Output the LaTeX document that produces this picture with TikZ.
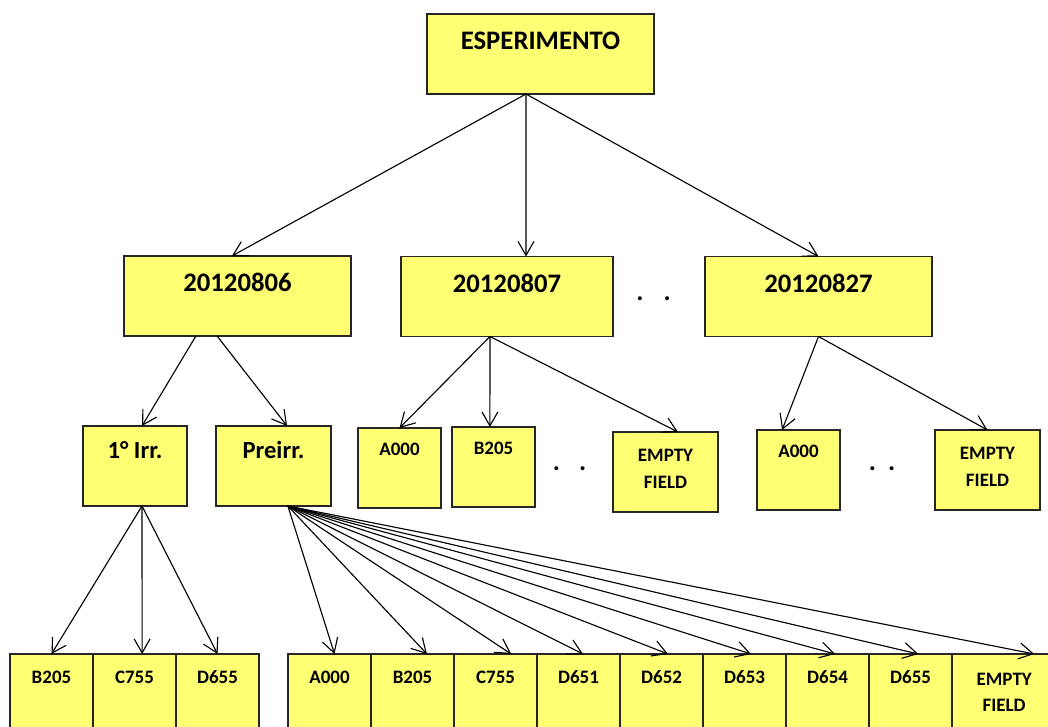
\documentclass[tikz,border=0pt]{standalone}
\usepackage{fontspec}
\setmainfont{Carlito}
\usetikzlibrary{arrows.meta, positioning}
\definecolor{boxyellow}{RGB}{255,255,115}

\begin{document}
\begin{tikzpicture}[x=0.025cm, y=-0.025cm, >={Straight Barb[length=3.5mm,width=4mm]},
    b/.style={draw=black!85, fill=boxyellow, line width=1pt, inner sep=0pt, outer sep=0pt, align=center, minimum height=2cm},
    root/.style={b, minimum width=5.675cm, text height=0.9cm, text depth=1.1cm, font=\bfseries\fontsize{19}{23}\selectfont},
    run/.style={b, minimum width=2.6cm, text height=0.81cm, text depth=1.19cm, font=\bfseries\fontsize{17.5}{21}\selectfont},
    src/.style={b, minimum width=2.075cm, text height=0.69cm, text depth=1.31cm, font=\bfseries\fontsize{13.5}{18.5}\selectfont},
    leaf/.style={b, minimum width=2.075cm, text height=0.74cm, text depth=1.26cm, font=\bfseries\fontsize{13.5}{18.5}\selectfont},
    dots/.style={anchor=base, inner sep=0pt, font=\bfseries\fontsize{19}{23}\selectfont},
    arr/.style={->, line width=0.8pt}
]
    \useasboundingbox (0,0) rectangle (1048,727);
    \clip (0,0) rectangle (1048,727);

    % top level
    \node[root] (esp) at (540.5,54) {ESPERIMENTO};

    % days
    \node[root] (d06) at (237.5,296) {20120806};
    \node[root, minimum width=5.3cm] (d07) at (507,296.5) {20120807};
    \node[root] (d27) at (818.5,296.5) {20120827};
    \node[dots] (dt1) at (653.5,301) {.\hspace{14.3pt}.};

    % second level
    \node[run] (irr) at (135,466) {1° Irr.};
    \node[run, minimum width=2.875cm] (pre) at (273.5,466) {Preirr.};
    \node[src] (a07) at (399.5,468) {A000};
    \node[src] (b07) at (493.5,467) {B205};
    \node[src, minimum width=2.625cm, text height=1.4cm, text depth=0.6cm] (e07) at (665.5,472) {EMPTY\\FIELD};
    \node[src] (a27) at (798.5,470) {A000};
    \node[src, minimum width=2.625cm, text height=1.4cm, text depth=0.6cm] (e27) at (987.5,470) {EMPTY\\FIELD};
    \node[dots] (dt2) at (569.5,471) {.\hspace{13.6pt}.};
    \node[dots] (dt3) at (882,471) {.\hspace{8.7pt}.};

    % bottom row
    \node[leaf] (b1) at (51.5,694) {B205};
    \node[leaf, right=0pt of b1] (c1) {C755};
    \node[leaf, right=0pt of c1] (d1) {D655};
    \node[leaf] (p1) at (329.5,694) {A000};
    \node[leaf, right=0pt of p1] (p2) {B205};
    \node[leaf, right=0pt of p2] (p3) {C755};
    \node[leaf, right=0pt of p3] (p4) {D651};
    \node[leaf, right=0pt of p4] (p5) {D652};
    \node[leaf, right=0pt of p5] (p6) {D653};
    \node[leaf, right=0pt of p6] (p7) {D654};
    \node[leaf, right=0pt of p7] (p8) {D655};
    \node[leaf, right=0pt of p8, minimum width=2.6cm, text height=1.435cm, text depth=0.565cm] (p9) {EMPTY\\FIELD};

    % connectors
    \draw[arr] ([xshift=-0.3625cm]esp.south) -- ([xshift=-0.14cm]d06.north);
    \draw[arr] ([xshift=-0.3625cm]esp.south) -- ([xshift=0.475cm]d07.north);
    \draw[arr] ([xshift=-0.3625cm]esp.south) -- (d27.north);
    \draw[arr] ([xshift=-1.04cm]d06.south) -- ([xshift=0.175cm]irr.north);
    \draw[arr] ([xshift=-0.51cm]d06.south) -- ([xshift=0.34cm]pre.north);
    \draw[arr] ([xshift=-0.425cm]d07.south) -- (a07.north);
    \draw[arr] ([xshift=-0.425cm]d07.south) -- ([xshift=-0.09cm]b07.north);
    \draw[arr] ([xshift=-0.425cm]d07.south) -- ([xshift=0.31cm]e07.north);
    \draw[arr] (d27.south) -- ([xshift=-0.41cm]a27.north);
    \draw[arr] (d27.south) -- (e27.north);
    \draw[arr] ([xshift=0.175cm]irr.south) -- (b1.north);
    \draw[arr] ([xshift=0.175cm]irr.south) -- ([xshift=0.19cm]c1.north);
    \draw[arr] ([xshift=0.175cm]irr.south) -- (d1.north);
    \draw[arr] ([xshift=0.36cm]pre.south) -- ([xshift=0.125cm]p1.north);
    \draw[arr] ([xshift=0.36cm]pre.south) -- ([xshift=0.36cm]p2.north);
    \draw[arr] ([xshift=0.36cm]pre.south) -- ([xshift=0.39cm]p3.north);
    \draw[arr] ([xshift=0.36cm]pre.south) -- ([xshift=0.11cm]p4.north);
    \draw[arr] ([xshift=0.36cm]pre.south) -- ([xshift=0.16cm]p5.north);
    \draw[arr] ([xshift=0.36cm]pre.south) -- ([xshift=0.16cm]p6.north);
    \draw[arr] ([xshift=0.36cm]pre.south) -- ([xshift=0.19cm]p7.north);
    \draw[arr] ([xshift=0.36cm]pre.south) -- ([xshift=0.19cm]p8.north);
    \draw[arr] ([xshift=0.36cm]pre.south) -- ([xshift=0.75cm]p9.north);
\end{tikzpicture}
\end{document}
